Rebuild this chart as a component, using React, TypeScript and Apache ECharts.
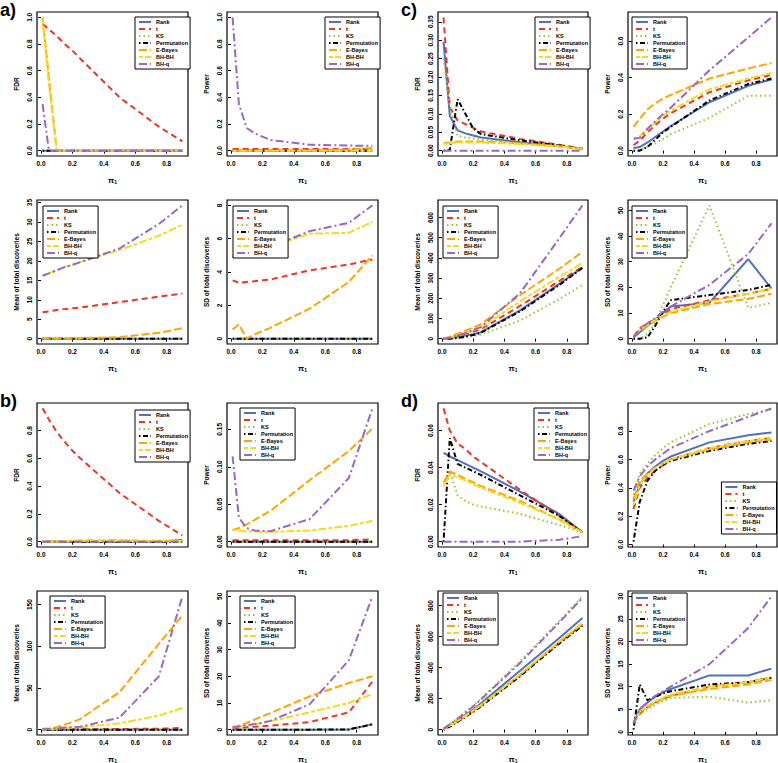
import React, { useEffect, useRef } from 'react';
import * as echarts from 'echarts';

const FONT = '"Liberation Sans", Arial, Helvetica, sans-serif';

// x grid (pi_1)
const PI1 = [0.01, 0.05, 0.1, 0.15, 0.2, 0.25, 0.5, 0.75, 0.9];
const METHODS = ['Rank', 't', 'KS', 'Permutation', 'E-Bayes', 'BH-BH', 'BH-q'];
const X_TICKS = [0, 0.2, 0.4, 0.6, 0.8];

// ---- a) ----
const aFDR = [
  [0, 0, 0, 0, 0, 0, 0, 0, 0],
  [0.95, 0.91, 0.86, 0.8, 0.75, 0.69, 0.4, 0.18, 0.07],
  [0, 0, 0, 0, 0, 0, 0, 0, 0],
  [0, 0, 0, 0, 0, 0, 0, 0, 0],
  [1.0, 0.55, 0, 0, 0, 0, 0.005, 0.005, 0.003],
  [0.98, 0.5, 0, 0, 0, 0, 0, 0, 0],
  [0.35, 0, 0, 0, 0, 0, 0, 0, 0],
];
const aFDRTicks = [0, 0.2, 0.4, 0.6, 0.8, 1.0];

const aPower = [
  [0, 0, 0, 0, 0, 0, 0, 0, 0],
  [0.012, 0.012, 0.012, 0.012, 0.012, 0.012, 0.012, 0.012, 0.012],
  [0, 0, 0, 0, 0, 0, 0, 0, 0],
  [0, 0, 0, 0, 0, 0, 0, 0, 0],
  [0, 0, 0, 0, 0, 0, 0.002, 0.008, 0.02],
  [0, 0, 0, 0, 0, 0, 0, 0, 0],
  [1.0, 0.35, 0.17, 0.13, 0.105, 0.08, 0.045, 0.038, 0.037],
];
const aPowerTicks = [0, 0.2, 0.4, 0.6, 0.8, 1.0];

const aMean = [
  [0, 0, 0, 0, 0, 0, 0, 0, 0],
  [6.8, 7.0, 7.4, 7.6, 7.8, 8.0, 9.4, 10.8, 11.6],
  [0, 0, 0, 0, 0, 0, 0, 0, 0],
  [0, 0, 0, 0, 0, 0, 0, 0, 0],
  [0, 0, 0, 0, 0, 0.1, 0.4, 1.5, 2.7],
  [16.2, 16.8, 17.6, 18.4, 19.0, 19.7, 22.8, 26.5, 29.3],
  [16.2, 16.8, 17.6, 18.4, 19.0, 19.7, 23.2, 29.5, 34.3],
];
const aMeanTicks = [0, 5, 10, 15, 20, 25, 30, 35];

const aSD = [
  [0, 0, 0, 0, 0, 0, 0, 0, 0],
  [3.5, 3.35, 3.4, 3.45, 3.5, 3.55, 4.1, 4.45, 4.75],
  [0, 0, 0, 0, 0, 0, 0, 0, 0],
  [0, 0, 0, 0, 0, 0, 0, 0, 0],
  [0.55, 0.85, 0.0, 0.25, 0.45, 0.65, 1.8, 3.4, 5.0],
  [4.95, 5.05, 5.1, 5.2, 5.35, 5.5, 6.3, 6.35, 7.0],
  [4.9, 5.0, 5.05, 5.15, 5.3, 5.5, 6.45, 6.95, 8.0],
];
const aSDTicks = [0, 2, 4, 6, 8];

// ---- c) ----
const cFDR = [
  [0.295, 0.095, 0.055, 0.047, 0.041, 0.036, 0.023, 0.012, 0.005],
  [0.362, 0.118, 0.082, 0.072, 0.062, 0.052, 0.032, 0.016, 0.006],
  [0.25, 0.12, 0.04, 0.036, 0.033, 0.03, 0.02, 0.012, 0.005],
  [0.0, 0.002, 0.14, 0.1, 0.06, 0.045, 0.028, 0.014, 0.005],
  [0.02, 0.022, 0.025, 0.025, 0.025, 0.025, 0.02, 0.012, 0.005],
  [0.018, 0.02, 0.022, 0.022, 0.022, 0.022, 0.018, 0.011, 0.005],
  [0, 0, 0, 0, 0, 0, 0, 0, 0],
];
const cFDRTicks = [0, 0.05, 0.1, 0.15, 0.2, 0.25, 0.3, 0.35];

const cPower = [
  [0.015, 0.02, 0.045, 0.075, 0.105, 0.135, 0.265, 0.355, 0.39],
  [0.03, 0.055, 0.1, 0.14, 0.175, 0.205, 0.32, 0.385, 0.415],
  [0.0, 0.005, 0.02, 0.04, 0.065, 0.09, 0.18, 0.3, 0.3],
  [0.0, 0.0, 0.02, 0.06, 0.1, 0.13, 0.275, 0.365, 0.395],
  [0.13, 0.175, 0.225, 0.26, 0.285, 0.305, 0.395, 0.45, 0.48],
  [0.065, 0.08, 0.115, 0.155, 0.19, 0.22, 0.335, 0.395, 0.425],
  [0.065, 0.07, 0.12, 0.16, 0.2, 0.235, 0.44, 0.62, 0.73],
];
const cPowerTicks = [0, 0.2, 0.4, 0.6];

const cMean = [
  [0, 2, 8, 15, 22, 32, 140, 270, 352],
  [0, 5, 15, 25, 35, 47, 162, 285, 355],
  [0, 1, 3, 8, 13, 20, 90, 195, 266],
  [0, 0, 3, 10, 18, 30, 135, 265, 350],
  [0, 10, 25, 40, 55, 72, 215, 345, 430],
  [0, 6, 18, 30, 42, 55, 185, 305, 375],
  [0, 5, 15, 28, 42, 58, 225, 495, 660],
];
const cMeanTicks = [0, 100, 200, 300, 400, 500, 600];

const cSD = [
  [0.5, 2.5, 5, 7.5, 10, 12.5, 14, 31, 19.5],
  [1, 4, 6, 7.5, 9, 11.5, 15, 17.5, 19.5],
  [0, 0, 2, 6, 13, 20, 52, 12, 14],
  [0, 0, 0.5, 5, 10.5, 15, 17, 19, 21],
  [1, 3, 5, 7, 8.5, 10, 13.5, 15.5, 17.5],
  [1, 3.5, 5.5, 7.5, 9, 10.5, 14.5, 17.5, 19.5],
  [0.5, 3.5, 6, 8, 10.5, 12.5, 21, 33, 45],
];
const cSDTicks = [0, 10, 20, 30, 40, 50];

// ---- b) ----
const bFDR = [
  [0, 0, 0, 0, 0, 0, 0, 0.002, 0.012],
  [0.96, 0.88, 0.79, 0.72, 0.655, 0.6, 0.35, 0.15, 0.045],
  [0, 0, 0, 0, 0, 0, 0, 0, 0],
  [0, 0, 0, 0, 0, 0, 0, 0, 0],
  [0, 0, 0, 0.003, 0.006, 0.008, 0.01, 0.005, 0.005],
  [0, 0, 0, 0.002, 0.004, 0.005, 0.006, 0.004, 0.004],
  [0, 0, 0, 0, 0, 0, 0, 0, 0],
];
const bFDRTicks = [0, 0.2, 0.4, 0.6, 0.8];

const bPower = [
  [0, 0, 0, 0, 0, 0, 0, 0, 0],
  [0.002, 0.002, 0.002, 0.002, 0.002, 0.002, 0.002, 0.002, 0.003],
  [0, 0, 0, 0, 0, 0, 0, 0, 0],
  [0, 0, 0, 0, 0, 0, 0, 0, 0],
  [0.0155, 0.018, 0.023, 0.029, 0.035, 0.041, 0.082, 0.121, 0.151],
  [0.016, 0.015, 0.014, 0.0135, 0.013, 0.013, 0.015, 0.021, 0.028],
  [0.114, 0.032, 0.018, 0.015, 0.0145, 0.014, 0.03, 0.085, 0.178],
];
const bPowerTicks = [0, 0.05, 0.1, 0.15];

const bMean = [
  [0, 0, 0, 0, 0, 0, 0, 0, 0],
  [0.5, 0.5, 0.5, 0.5, 0.5, 0.5, 0.8, 1.2, 2],
  [0, 0, 0, 0, 0, 0, 0, 0, 0],
  [0, 0, 0, 0, 0, 0, 0, 0, 0],
  [0.5, 1, 3, 6, 9, 13, 45, 103, 137],
  [0.3, 0.5, 1, 1.8, 2.5, 3, 7.5, 17, 26],
  [1, 1, 1.5, 2.5, 3, 3.5, 14.5, 64, 160],
];
const bMeanTicks = [0, 50, 100, 150];

const bSD = [
  [0, 0, 0, 0, 0, 0, 0, 0.1, 2],
  [0.5, 0.7, 0.9, 1.1, 1.3, 1.5, 2.8, 6.5, 18],
  [0, 0, 0, 0, 0, 0, 0, 0.1, 2],
  [0, 0, 0, 0, 0, 0, 0, 0.1, 2],
  [0.5, 1.5, 2.5, 3.8, 5, 6.2, 12.5, 17.5, 20],
  [1, 1.2, 1.5, 2, 2.5, 3.1, 6.5, 10, 13.3],
  [1, 1.2, 1.6, 2.1, 2.6, 3.3, 9.5, 26, 50],
];
const bSDTicks = [0, 10, 20, 30, 40, 50];

// ---- d) ----
const dFDR = [
  [0.048, 0.046, 0.044, 0.042, 0.04, 0.038, 0.027, 0.015, 0.005],
  [0.072, 0.06, 0.053, 0.05, 0.046, 0.043, 0.028, 0.014, 0.005],
  [0.03, 0.038, 0.025, 0.022, 0.02, 0.019, 0.015, 0.009, 0.005],
  [0.0, 0.056, 0.042, 0.04, 0.038, 0.036, 0.025, 0.014, 0.005],
  [0.032, 0.038, 0.036, 0.034, 0.032, 0.03, 0.022, 0.012, 0.005],
  [0.03, 0.036, 0.035, 0.033, 0.031, 0.029, 0.021, 0.012, 0.005],
  [0, 0, 0, 0, 0, 0, 0, 0.001, 0.003],
];
const dFDRTicks = [0, 0.02, 0.04, 0.06];

const dPower = [
  [0.3, 0.42, 0.5, 0.55, 0.59, 0.62, 0.72, 0.77, 0.79],
  [0.25, 0.4, 0.47, 0.52, 0.56, 0.6, 0.68, 0.73, 0.75],
  [0.35, 0.5, 0.57, 0.63, 0.68, 0.72, 0.85, 0.92, 0.95],
  [0.02, 0.3, 0.45, 0.52, 0.56, 0.59, 0.66, 0.71, 0.73],
  [0.32, 0.45, 0.5, 0.54, 0.57, 0.6, 0.67, 0.72, 0.74],
  [0.28, 0.42, 0.49, 0.54, 0.57, 0.6, 0.68, 0.73, 0.75],
  [0.38, 0.48, 0.55, 0.6, 0.64, 0.68, 0.8, 0.9, 0.96],
];
const dPowerTicks = [0, 0.2, 0.4, 0.6, 0.8];

const dMean = [
  [5, 30, 60, 95, 130, 170, 380, 590, 720],
  [5, 25, 55, 88, 120, 155, 350, 560, 680],
  [5, 35, 75, 115, 155, 200, 440, 700, 860],
  [0, 20, 50, 82, 115, 150, 345, 555, 670],
  [5, 28, 58, 90, 125, 160, 355, 565, 680],
  [5, 26, 56, 88, 122, 158, 355, 570, 690],
  [5, 35, 70, 110, 150, 195, 430, 690, 850],
];
const dMeanTicks = [0, 200, 400, 600, 800];

const dSD = [
  [2, 5, 6.5, 7.8, 8.8, 9.5, 12.5, 12.5, 14],
  [2, 4, 5.5, 6.5, 7.3, 8, 10, 11, 12],
  [2, 4, 5, 6, 6.8, 7.5, 7.8, 6.5, 7],
  [0.5, 10.5, 7, 7.8, 8.5, 9, 10.5, 11, 12],
  [2, 4.5, 5.5, 6.5, 7.3, 8, 9.5, 10.5, 11.5],
  [2, 4.5, 5.8, 6.8, 7.6, 8.3, 10, 11, 12],
  [2, 5, 6.5, 8, 9, 10, 15, 23, 30],
];
const dSDTicks = [0, 5, 10, 15, 20, 25, 30];

// ---- styles ----
const COLORS = ['#5170C0', '#EE3524', '#90CC30', '#000000', '#FFA500', '#EEDF1E', '#9966CC'];
const DASHES: any[] = ['solid', [6, 4], [1.5, 3], [1.5, 2.5, 5, 2.5], [8, 3], [4, 2, 8, 2], [8, 3, 2, 3]];

// ---- layout ----
const COL_X = [37, 227, 438, 628];
const COL_W = [151, 151, 150, 149];
const ROW_Y = [12, 200, 403, 591];
const BOX_H = 144;

// legend position: [left, top] or [-right, top] when anchored at the right
const PANELS = [
  { data: aFDR, ticks: aFDRTicks, dec: 1, yName: 'FDR', col: 0, row: 0, leg: [135, 17] },
  { data: aPower, ticks: aPowerTicks, dec: 1, yName: 'Power', col: 1, row: 0, leg: [325, 17] },
  { data: aMean, ticks: aMeanTicks, dec: 0, yName: 'Mean of total discoveries', col: 0, row: 1, leg: [43, 206] },
  { data: aSD, ticks: aSDTicks, dec: 0, yName: 'SD of total discoveries', col: 1, row: 1, leg: [233, 206] },
  { data: cFDR, ticks: cFDRTicks, dec: 2, yName: 'FDR', col: 2, row: 0, leg: [535, 17] },
  { data: cPower, ticks: cPowerTicks, dec: 1, yName: 'Power', col: 3, row: 0, leg: [632, 17] },
  { data: cMean, ticks: cMeanTicks, dec: 0, yName: 'Mean of total discoveries', col: 2, row: 1, leg: [443, 206] },
  { data: cSD, ticks: cSDTicks, dec: 0, yName: 'SD of total discoveries', col: 3, row: 1, leg: [632, 206] },
  { data: bFDR, ticks: bFDRTicks, dec: 1, yName: 'FDR', col: 0, row: 2, leg: [135, 410] },
  { data: bPower, ticks: bPowerTicks, dec: 2, yName: 'Power', col: 1, row: 2, leg: [240, 408] },
  { data: bMean, ticks: bMeanTicks, dec: 0, yName: 'Mean of total discoveries', col: 0, row: 3, leg: [50, 596] },
  { data: bSD, ticks: bSDTicks, dec: 0, yName: 'SD of total discoveries', col: 1, row: 3, leg: [240, 596] },
  { data: dFDR, ticks: dFDRTicks, dec: 2, yName: 'FDR', col: 2, row: 2, leg: [534, 408] },
  { data: dPower, ticks: dPowerTicks, dec: 1, yName: 'Power', col: 3, row: 2, leg: [-1.5, 482] },
  { data: dMean, ticks: dMeanTicks, dec: 0, yName: 'Mean of total discoveries', col: 2, row: 3, leg: [443, 593] },
  { data: dSD, ticks: dSDTicks, dec: 0, yName: 'SD of total discoveries', col: 3, row: 3, leg: [632, 593] },
];

const PANEL_TAGS = [
  { text: 'a)', x: 0, y: 1 },
  { text: 'c)', x: 401, y: 1 },
  { text: 'b)', x: 0, y: 392 },
  { text: 'd)', x: 401, y: 392 },
];

function padRange(vals: number[]) {
  const lo = Math.min(...vals);
  const hi = Math.max(...vals);
  const r = hi - lo || 1;
  return [lo - 0.04 * r, hi + 0.04 * r];
}

function buildOption() {
  const xr = padRange(PI1);
  const grid: any[] = [];
  const xAxis: any[] = [];
  const yAxis: any[] = [];
  const series: any[] = [];
  const legend: any[] = [];
  const tickLabel = { fontFamily: FONT, fontSize: 6.5, fontWeight: 'bold', color: '#000' };

  PANELS.forEach((p, i) => {
    grid.push({
      left: COL_X[p.col], top: ROW_Y[p.row], width: COL_W[p.col], height: BOX_H,
      show: true, borderColor: '#000', borderWidth: 1.2, backgroundColor: 'transparent',
      containLabel: false, outerBoundsMode: 'none',
    });
    xAxis.push({
      type: 'value', gridIndex: i, min: xr[0], max: xr[1],
      name: '{p|\u03c0}{s|1}', nameLocation: 'middle', nameGap: 19,
      nameTextStyle: {
        fontFamily: FONT, fontWeight: 'bold', color: '#000',
        rich: {
          p: { fontFamily: FONT, fontSize: 8, fontWeight: 'bold', lineHeight: 9, verticalAlign: 'bottom' },
          s: { fontFamily: FONT, fontSize: 5, fontWeight: 'bold', lineHeight: 3, verticalAlign: 'bottom' },
        },
      },
      axisLine: { show: false },
      splitLine: { show: false },
      axisTick: { show: true, length: 3, lineStyle: { color: '#000', width: 1 }, customValues: X_TICKS },
      axisLabel: { ...tickLabel, margin: 4, customValues: X_TICKS, formatter: (v: number) => v.toFixed(1) },
    });
    const all = ([] as number[]).concat(...p.data);
    const yr = padRange(all);
    yAxis.push({
      type: 'value', gridIndex: i, min: yr[0], max: yr[1],
      name: p.yName, nameLocation: 'middle', nameGap: 17,
      nameTextStyle: { fontFamily: FONT, fontSize: 6.5, fontWeight: 'bold', color: '#000' },
      axisLine: { show: false },
      splitLine: { show: false },
      axisTick: { show: true, length: 3, lineStyle: { color: '#000', width: 1 }, customValues: p.ticks },
      axisLabel: {
        ...tickLabel, rotate: 90, margin: 4, customValues: p.ticks,
        formatter: (v: number) => v.toFixed(p.dec),
      },
    });
    p.data.forEach((vals, k) => {
      series.push({
        type: 'line', name: METHODS[k], xAxisIndex: i, yAxisIndex: i,
        data: PI1.map((x, j) => [x, vals[j]]),
        symbol: 'none', showSymbol: false, clip: true, silent: true,
        color: COLORS[k],
        lineStyle: { color: COLORS[k], width: 2, type: DASHES[k] },
        itemStyle: { color: COLORS[k] },
      });
    });
    const pos: any = p.leg[0] < 0 ? { right: -p.leg[0] } : { left: p.leg[0] };
    legend.push({
      orient: 'vertical', ...pos, top: p.leg[1], data: METHODS,
      itemWidth: 12, itemHeight: 5, itemGap: 1, padding: [2, 2, 2, 3],
      borderColor: '#000', borderWidth: 1, backgroundColor: '#fff',
      selectedMode: false, z: 10,
      itemStyle: { opacity: 0 },
      textStyle: { fontFamily: FONT, fontSize: 5.5, fontWeight: 'bold', color: '#000' },
    });
  });

  const graphic = PANEL_TAGS.map((t) => ({
    type: 'text', left: t.x, top: t.y,
    style: { text: t.text, font: `bold 18px ${FONT}`, fill: '#000' },
  }));

  return {
    animation: false,
    backgroundColor: '#fff',
    grid, xAxis, yAxis, series, legend, graphic,
  };
}

export default function App() {
  const ref = useRef<HTMLDivElement>(null);
  useEffect(() => {
    if (!ref.current) return;
    const chart = echarts.init(ref.current, undefined, { renderer: 'svg' });
    chart.setOption(buildOption() as any);
    return () => chart.dispose();
  }, []);
  return (
    <div
      ref={ref}
      style={{ position: 'fixed', left: 0, top: 0, width: 778, height: 763, background: '#fff' }}
    />
  );
}
